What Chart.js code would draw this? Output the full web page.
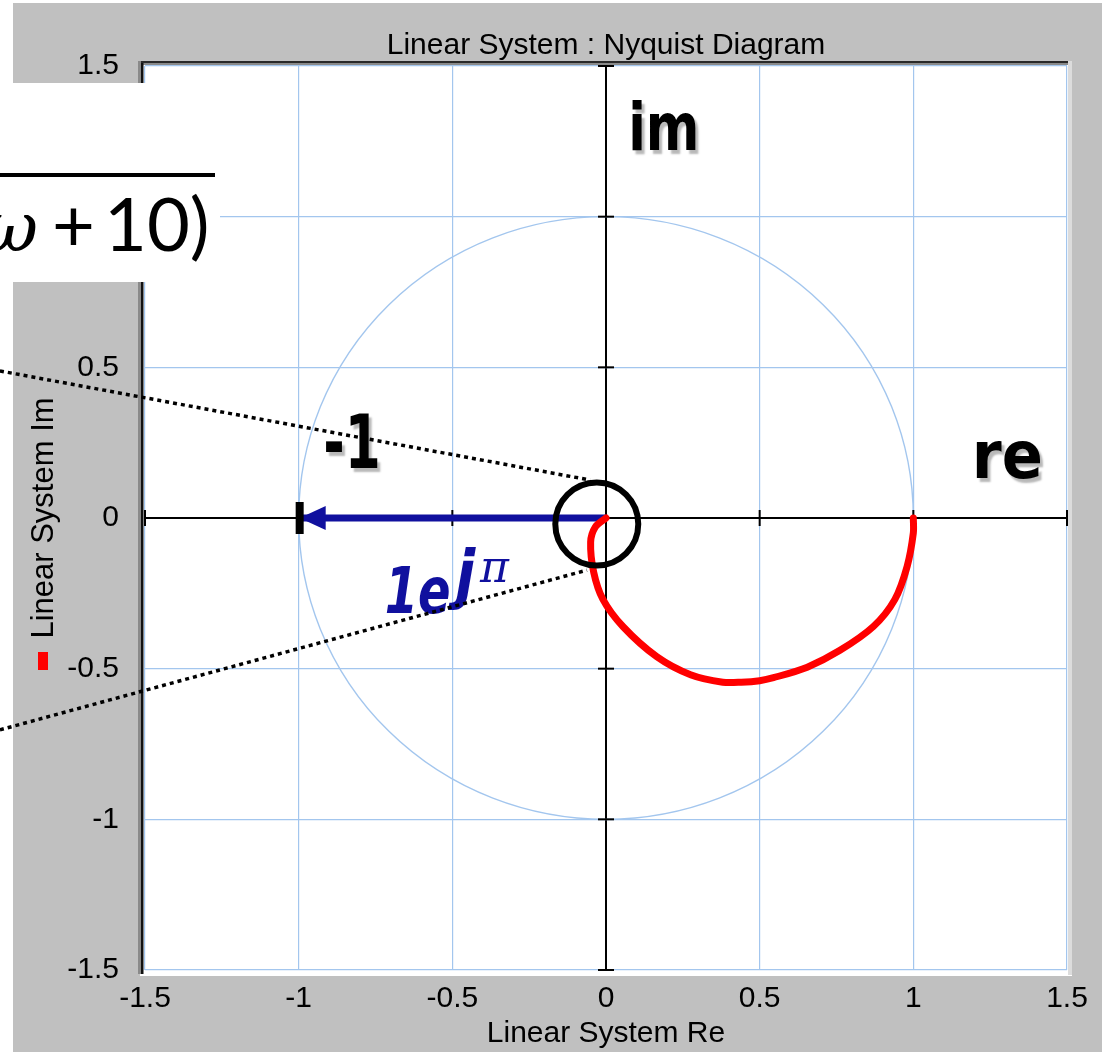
<!DOCTYPE html>
<html>
<head>
<meta charset="utf-8">
<script src="https://cdn.jsdelivr.net/npm/chart.js@4.4.1/dist/chart.umd.min.js"></script>
<style>
  html, body { margin: 0; padding: 0; background: #fff; }
  canvas { display: block; }
</style>
</head>
<body>
<canvas id="nyquist" width="1102" height="1052"></canvas>
<script>
// axis ticks (both axes)
const tickValues = [-1.5, -1, -0.5, 0, 0.5, 1, 1.5];

// Nyquist curve
const curveRe = [1.0, 1.0, 0.98, 0.94, 0.87, 0.76, 0.655, 0.545, 0.5, 0.44, 0.38, 0.275, 0.165, 0.055, -0.01, -0.04, -0.05, -0.035, 0];
const curveIm = [0, -0.05, -0.16, -0.27, -0.36, -0.44, -0.495, -0.53, -0.54, -0.545, -0.545, -0.52, -0.46, -0.36, -0.27, -0.18, -0.08, -0.03, 0];

// the 1e^{j pi} phasor
const phasorRe = [0, -1];
const phasorIm = [0, 0];

// annotation anchors in data units
const markCircle = { re: -0.03, im: -0.02, r: 0.135 };
const dottedUpper = [[-1.972, 0.488], [-0.052, 0.126]];
const dottedLower = [[-1.972, -0.703], [-0.062, -0.173]];

const gridBlue = '#a3c6ee';
const sans = '"Liberation Sans", Arial, sans-serif';
const navy = '#10109e';

function line(ctx, x1, y1, x2, y2) {
    ctx.beginPath();
    ctx.moveTo(x1, y1);
    ctx.lineTo(x2, y2);
    ctx.stroke();
}

function comicText(ctx, text, x, y, font, color, sx, shadow) {
    ctx.save();
    ctx.translate(x, y);
    ctx.scale(sx, 1);
    ctx.font = font;
    ctx.textAlign = 'left';
    ctx.textBaseline = 'alphabetic';
    if (shadow) {
        ctx.shadowColor = 'rgba(0,0,0,0.28)';
        ctx.shadowOffsetX = 3;
        ctx.shadowOffsetY = 4;
        ctx.shadowBlur = 2;
    }
    ctx.fillStyle = color;
    ctx.fillText(text, 0, 0);
    ctx.restore();
}

const decorations = {
    id: 'decorations',
    beforeDraw(chart) {
        const { ctx, chartArea: a } = chart;
        ctx.save();
        ctx.fillStyle = '#fff';
        ctx.fillRect(0, 0, chart.width, chart.height);
        ctx.fillStyle = '#c0c0c0';
        ctx.fillRect(13, 3, chart.width - 13, chart.height - 3);
        // plot panel with sunken edge
        ctx.fillStyle = '#fff';
        ctx.fillRect(a.left - 5, a.top - 4, a.right - a.left + 10, a.bottom - a.top + 10);
        ctx.fillStyle = '#2a2a2a';
        ctx.fillRect(a.left - 5, a.top - 5, a.right - a.left + 6, 2);
        ctx.fillStyle = '#8a8a8a';
        ctx.fillRect(a.left - 5, a.top - 3, a.right - a.left + 6, 2);
        ctx.fillStyle = '#8a8a8a';
        ctx.fillRect(a.left - 7, a.top - 5, 3, a.bottom - a.top + 9);
        ctx.fillStyle = '#111';
        ctx.fillRect(a.left - 4, a.top - 3, 2.5, a.bottom - a.top + 7);
        ctx.fillStyle = '#dcdcdc';
        ctx.fillRect(a.right + 1, a.top - 5, 4, a.bottom - a.top + 10);
        ctx.restore();
    },
    beforeDatasetsDraw(chart) {
        const { ctx } = chart;
        const xs = chart.scales.x, ys = chart.scales.y;
        const cx = xs.getPixelForValue(0), cy = ys.getPixelForValue(0);
        ctx.save();
        // unit circle
        ctx.strokeStyle = gridBlue;
        ctx.lineWidth = 1.4;
        ctx.beginPath();
        ctx.ellipse(cx, cy, xs.getPixelForValue(1) - cx, cy - ys.getPixelForValue(1), 0, 0, Math.PI * 2);
        ctx.stroke();
        // tick marks on the axes through the origin
        ctx.strokeStyle = '#000';
        ctx.lineWidth = 2;
        tickValues.forEach(v => {
            if (v === 0) return;
            const x = xs.getPixelForValue(v);
            line(ctx, x, cy - 8, x, cy + 8);
            const y = ys.getPixelForValue(v);
            line(ctx, cx - 8, y, cx + 8, y);
        });
        ctx.restore();
    },
    afterDatasetsDraw(chart) {
        const { ctx } = chart;
        const xs = chart.scales.x, ys = chart.scales.y;
        const cy = ys.getPixelForValue(0);
        const tip = xs.getPixelForValue(phasorRe[1]);
        ctx.save();
        // arrow head and bar at -1
        ctx.fillStyle = navy;
        ctx.beginPath();
        ctx.moveTo(tip + 1, cy);
        ctx.lineTo(tip + 27, cy - 12);
        ctx.lineTo(tip + 27, cy + 12);
        ctx.closePath();
        ctx.fill();
        ctx.fillStyle = '#000';
        ctx.fillRect(tip - 3, cy - 16, 8, 32);

        // black circle round the origin
        const mx = xs.getPixelForValue(markCircle.re), my = ys.getPixelForValue(markCircle.im);
        const mr = xs.getPixelForValue(markCircle.r) - xs.getPixelForValue(0);
        ctx.strokeStyle = '#000';
        ctx.lineWidth = 6;
        ctx.beginPath();
        ctx.arc(mx, my, mr, 0, Math.PI * 2);
        ctx.stroke();

        const bold = '"DejaVu Sans", sans-serif';
        comicText(ctx, 'im', xs.getPixelForValue(0.072), ys.getPixelForValue(1.221), 'bold 66px ' + bold, '#000', 0.78, true);
        comicText(ctx, 're', xs.getPixelForValue(1.19), ys.getPixelForValue(0.133), 'bold 66px ' + bold, '#000', 0.92, true);
        comicText(ctx, '-1', xs.getPixelForValue(-0.92), ys.getPixelForValue(0.166), 'bold 74px ' + bold, '#000', 0.7, true);
        comicText(ctx, '1e', xs.getPixelForValue(-0.72), ys.getPixelForValue(-0.315), 'bold italic 64px ' + bold, navy, 0.75, false);
        comicText(ctx, 'j', xs.getPixelForValue(-0.49), ys.getPixelForValue(-0.26), 'bold italic 64px ' + bold, navy, 0.9, false);
        comicText(ctx, 'π', xs.getPixelForValue(-0.41), ys.getPixelForValue(-0.212), 'italic 44px "DejaVu Serif", serif', navy, 1, false);
        ctx.restore();
    },
    afterDraw(chart) {
        const { ctx } = chart;
        const xs = chart.scales.x, ys = chart.scales.y;
        ctx.save();
        // pasted formula fragment
        ctx.fillStyle = '#fff';
        ctx.fillRect(0, 83, 220, 199);
        ctx.fillStyle = '#000';
        ctx.fillRect(0, 173, 215, 4);
        ctx.textBaseline = 'alphabetic';
        ctx.textAlign = 'left';
        ctx.font = '74px Lato, "Open Sans", sans-serif';
        ctx.fillText('10)', 104, 251);
        ctx.fillText('+', 52, 251);
        ctx.textAlign = 'right';
        ctx.font = 'italic 70px "DejaVu Serif", serif';
        ctx.fillText('ω', 38, 251);

        // dotted lines
        ctx.strokeStyle = '#000';
        ctx.lineWidth = 3.5;
        ctx.setLineDash([4, 4]);
        [dottedUpper, dottedLower].forEach(seg => {
            line(ctx,
                xs.getPixelForValue(seg[0][0]), ys.getPixelForValue(seg[0][1]),
                xs.getPixelForValue(seg[1][0]), ys.getPixelForValue(seg[1][1]));
        });
        ctx.setLineDash([]);

        // legend swatch
        ctx.fillStyle = '#ff0000';
        ctx.fillRect(38, 652, 10, 18);
        ctx.restore();
    }
};

const axisOptions = (title, titleSize, titlePad) => ({
    type: 'linear',
    min: -1.5,
    max: 1.5,
    afterBuildTicks: scale => { scale.ticks = tickValues.map(v => ({ value: v })); },
    grid: {
        color: c => (c.tick && c.tick.value === 0 ? '#000' : gridBlue),
        lineWidth: c => (c.tick && c.tick.value === 0 ? 2 : 1.2),
        drawTicks: false
    },
    border: { display: false },
    ticks: {
        color: '#000',
        font: { family: sans, size: 30 },
        callback: v => String(v)
    },
    title: {
        display: true,
        text: title,
        color: '#000',
        font: { family: sans, size: titleSize },
        padding: titlePad
    }
});

const xAxis = axisOptions('Linear System Re', 30, { top: 0, bottom: 0 });
xAxis.ticks.padding = 11;
xAxis.afterFit = scale => { scale.height = 82; };

const yAxis = axisOptions('Linear System Im', 31, { top: 26, bottom: 0 });
yAxis.ticks.padding = 26;
yAxis.afterFit = scale => { scale.width = 145; };

new Chart(document.getElementById('nyquist'), {
    type: 'scatter',
    data: {
        datasets: [
            {
                data: curveRe.map((re, i) => ({ x: re, y: curveIm[i] })),
                showLine: true,
                borderColor: '#ff0000',
                borderWidth: 7,
                borderJoinStyle: 'round',
                borderCapStyle: 'round',
                tension: 0.3,
                pointRadius: 0
            },
            {
                data: phasorRe.map((re, i) => ({ x: re, y: phasorIm[i] })),
                showLine: true,
                borderColor: navy,
                borderWidth: 7,
                pointRadius: 0
            }
        ]
    },
    options: {
        responsive: false,
        animation: false,
        layout: { padding: { left: 0, right: 35, top: 0, bottom: 0 } },
        plugins: {
            legend: { display: false },
            tooltip: { enabled: false },
            title: {
                display: true,
                fullSize: false,
                text: 'Linear System : Nyquist Diagram',
                color: '#000',
                font: { family: sans, size: 30, weight: 'normal' },
                padding: { top: 28, bottom: 2 }
            }
        },
        scales: { x: xAxis, y: yAxis }
    },
    plugins: [decorations]
});
</script>
</body>
</html>
